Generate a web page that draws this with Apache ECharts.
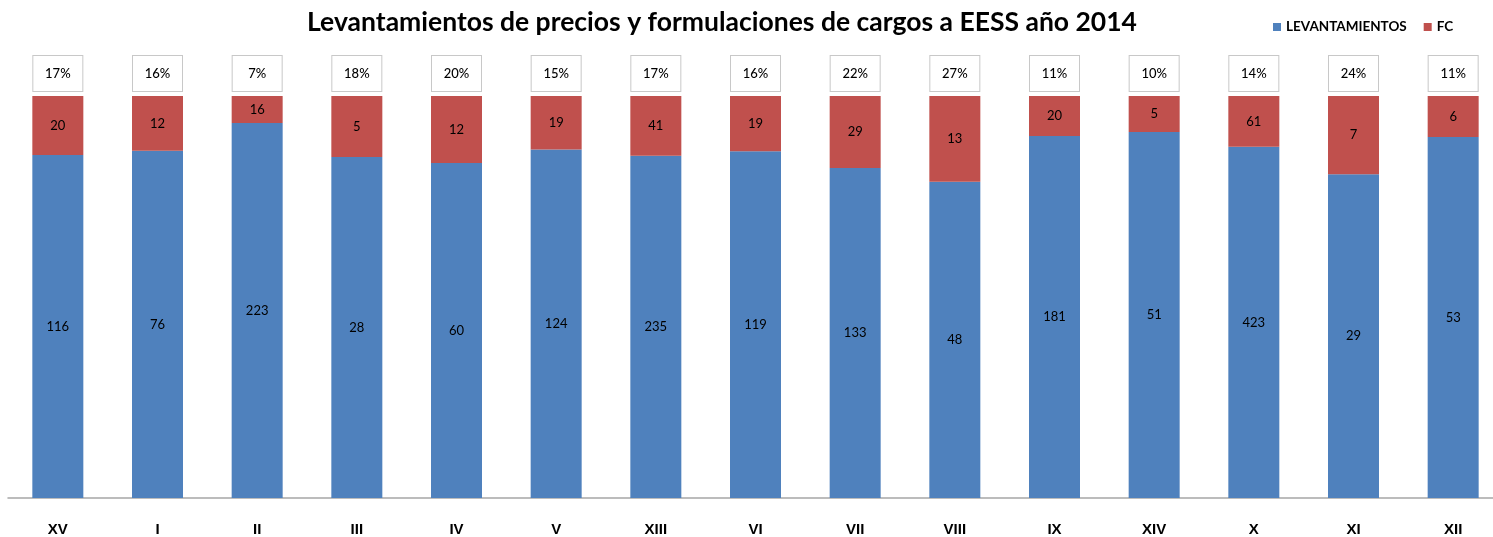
<!DOCTYPE html>
<html>
<head>
    <meta charset="utf-8">
    <title>Levantamientos de precios y formulaciones de cargos a EESS año 2014</title>
    <script src="https://cdn.jsdelivr.net/npm/echarts@6/dist/echarts.min.js"></script>
    <style>
        html, body { margin: 0; padding: 0; background: #fff; }
        #chart { width: 1493px; height: 537px; }
    </style>
</head>
<body>
    <div id="chart"></div>
    <script>
        // regiones
        const regiones = ['XV', 'I', 'II', 'III', 'IV', 'V', 'XIII', 'VI', 'VII', 'VIII', 'IX', 'XIV', 'X', 'XI', 'XII'];
        // levantamientos de precios
        const levantamientos = [116, 76, 223, 28, 60, 124, 235, 119, 133, 48, 181, 51, 423, 29, 53];
        // formulaciones de cargos
        const fc = [20, 12, 16, 5, 12, 19, 41, 19, 29, 13, 20, 5, 61, 7, 6];

        const totales = levantamientos.map((v, i) => v + fc[i]);
        // 100% apilado
        const levPct = levantamientos.map((v, i) => v / totales[i] * 100);
        const fcPct = fc.map((v, i) => v / totales[i] * 100);

        const chart = echarts.init(document.getElementById('chart'));

        const labelFont = { fontFamily: 'Lato', fontSize: 13, color: '#000' };

        chart.setOption({
            animation: false,
            title: {
                text: 'Levantamientos de precios y formulaciones de cargos a EESS año 2014',
                left: 717,
                top: 4,
                textAlign: 'center',
                textStyle: { fontFamily: 'Lato', fontWeight: 'bold', fontSize: 26.5, color: '#000' }
            },
            legend: {
                data: ['LEVANTAMIENTOS', 'FC'],
                left: 1268,
                top: 15,
                itemWidth: 8,
                itemHeight: 8,
                itemGap: 17,
                icon: 'rect',
                textStyle: { fontFamily: 'Lato', fontWeight: 'bold', fontSize: 13.5, color: '#000' }
            },
            grid: { left: 8, width: 1495, top: 96, bottom: 39, containLabel: false, outerBoundsMode: 'none' },
            xAxis: {
                type: 'category',
                data: regiones,
                axisLine: { lineStyle: { color: '#a6a6a6', width: 1.5 } },
                axisTick: { show: false },
                axisLabel: {
                    margin: 24,
                    fontFamily: 'Liberation Sans',
                    fontWeight: 'bold',
                    fontSize: 15,
                    color: '#000'
                }
            },
            yAxis: {
                type: 'value',
                min: 0,
                max: 100,
                show: false,
                splitLine: { show: false }
            },
            series: [
                {
                    name: 'LEVANTAMIENTOS',
                    type: 'bar',
                    stack: 'total',
                    barWidth: 51,
                    data: levPct,
                    itemStyle: { color: '#4F81BD' },
                    label: {
                        show: true,
                        position: 'inside',
                        ...labelFont,
                        formatter: p => levantamientos[p.dataIndex]
                    }
                },
                {
                    name: 'FC',
                    type: 'bar',
                    stack: 'total',
                    barWidth: 51,
                    data: fcPct,
                    itemStyle: { color: '#C0504D' },
                    label: {
                        show: true,
                        position: 'inside',
                        ...labelFont,
                        formatter: p => fc[p.dataIndex]
                    }
                },
                {
                    // recuadro con % FC / levantamientos
                    name: 'pct',
                    type: 'bar',
                    stack: 'total',
                    barWidth: 51,
                    data: regiones.map(() => 0),
                    itemStyle: { color: 'transparent' },
                    silent: true,
                    label: {
                        show: true,
                        position: 'top',
                        distance: 5,
                        ...labelFont,
                        fontWeight: 500,
                        width: 49,
                        height: 35,
                        lineHeight: 35,
                        align: 'center',
                        backgroundColor: '#fff',
                        borderColor: '#c8c8c8',
                        borderWidth: 1,
                        formatter: p => Math.round(fc[p.dataIndex] / levantamientos[p.dataIndex] * 100) + '%'
                    }
                }
            ]
        });
    </script>
</body>
</html>
